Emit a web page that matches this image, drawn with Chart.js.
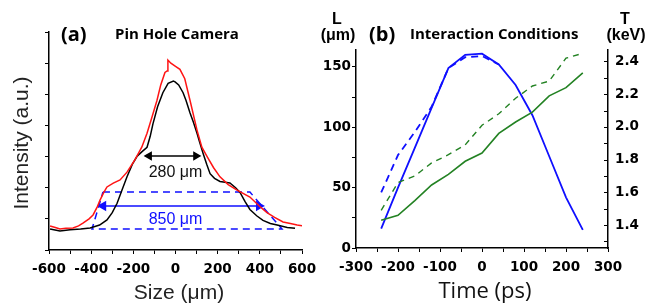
<!DOCTYPE html>
<html>
<head>
<meta charset="utf-8">
<script src="https://cdn.jsdelivr.net/npm/chart.js@4/dist/chart.umd.min.js"></script>
<style>
  html, body { margin: 0; padding: 0; background: #fff; }
  #wrap { position: relative; width: 647px; height: 303px; }
  #boxA { position: absolute; left: 0; top: 0; width: 320px; height: 303px; }
  #boxB { position: absolute; left: 320px; top: 0; width: 327px; height: 303px; }
</style>
</head>
<body>
<div id="wrap">
  <div id="boxA"><canvas id="pinhole"></canvas></div>
  <div id="boxB"><canvas id="interaction"></canvas></div>
</div>
<script>
// ---- (a) pin hole camera profiles ----
const sizeRed = [-595, -570, -548, -520, -486, -460, -439, -410, -391, -370, -358, -340, -325, -295, -263, -230, -192, -160, -135, -110, -88, -70, -50, -40, -36, -22, 0, 21, 44, 69, 102, 125, 150, 180, 211, 250, 292, 353, 401, 434, 470, 510, 545, 577, 600];
const intRed  = [1.54, 1.45, 1.35, 1.40, 1.41, 1.55, 1.73, 2.0, 2.25, 2.8, 3.2, 3.7, 4.05, 4.3, 4.5, 5.0, 5.8, 6.6, 7.5, 8.6, 9.6, 10.6, 11.4, 11.5, 12.2, 12.0, 11.8, 11.6, 11.0, 9.6, 7.7, 6.6, 6.0, 5.3, 4.7, 4.2, 3.85, 3.4, 2.78, 2.4, 2.1, 1.8, 1.7, 1.6, 1.55];

const sizeBlack = [-595, -548, -500, -450, -405, -360, -325, -300, -277, -255, -230, -205, -183, -160, -135, -120, -107, -85, -60, -35, -10, -2, 15, 36, 50, 69, 85, 102, 115, 131, 148, 164, 185, 211, 235, 258, 285, 306, 330, 353, 385, 415, 450, 482, 530, 567];
const intBlack  = [1.35, 1.22, 1.3, 1.35, 1.41, 1.6, 1.93, 2.4, 3.0, 3.8, 4.7, 5.5, 6.0, 6.3, 6.6, 7.3, 8.1, 9.2, 10.1, 10.7, 10.85, 10.8, 10.6, 10.1, 9.6, 8.8, 8.2, 7.5, 6.9, 6.2, 5.5, 4.9, 4.6, 4.4, 4.35, 4.3, 4.0, 3.7, 3.1, 2.6, 2.2, 1.9, 1.7, 1.6, 1.45, 1.4];

// widths marked on the profile
const fwhmX = [-125, 97];   const fwhmY = [6.04, 6.04];
const baseX = [-343, 396];  const baseY = [2.83, 2.83];
const boxX  = [-344, 353, 505, -396, -344];
const boxY  = [3.72, 3.72, 1.35, 1.35, 3.72];

const sizeTicks  = [-600, -500, -400, -300, -200, -100, 0, 100, 200, 300, 400, 500, 600];
const sizeLabels = [-600, -400, -200, 0, 200, 400, 600];
const intTicks   = [0, 1, 2, 3, 4, 5, 6, 7, 8, 9, 10, 11, 12, 13, 14];

// ---- (b) interaction conditions ----
const times   = [-240, -200, -160, -120, -80, -40, 0, 40, 80, 120, 160, 200, 240];
const lSolid  = [16, 50, 83, 116, 149, 160, 161, 152, 135, 110, 76, 42, 15];
const lDashed = [46, 77, 96, 117, 149, 158, 159, 152];
const tSolid  = [1.43, 1.46, 1.55, 1.645, 1.71, 1.79, 1.84, 1.96, 2.03, 2.09, 2.19, 2.24, 2.33];
const tDashed = [1.49, 1.66, 1.70, 1.78, 1.83, 1.89, 2.01, 2.08, 2.175, 2.25, 2.28, 2.42, 2.45];

const timeTicks  = [-300, -250, -200, -150, -100, -50, 0, 50, 100, 150, 200, 250, 300];
const timeLabels = [-300, -200, -100, 0, 100, 200, 300];
const lTicks     = [0, 25, 50, 75, 100, 125, 150];
const lLabels    = [0, 50, 100, 150];
const tTicks     = [1.3, 1.4, 1.5, 1.6, 1.7, 1.8, 1.9, 2.0, 2.1, 2.2, 2.3, 2.4];
const tLabels    = [1.4, 1.6, 1.8, 2.0, 2.2, 2.4];

const pts = (xs, ys) => xs.map((x, i) => ({ x: x, y: ys[i] }));
const tickFont = { family: 'DejaVu Sans', size: 13.5, weight: 'bold' };
const BLUE = '#0f0fff', GREEN = '#238223', RED = '#ff1414';

function textPlugin(items) {
  return {
    id: 'texts',
    afterDraw(chart) {
      const ctx = chart.ctx;
      items.forEach(t => {
        let x = t.x, y = t.y;
        if (t.onData) {
          x = chart.scales.x.getPixelForValue(t.x);
          y = chart.scales.y.getPixelForValue(t.y);
        }
        ctx.save();
        ctx.font = t.font;
        ctx.fillStyle = t.color || '#000';
        ctx.textAlign = t.align || 'left';
        ctx.textBaseline = t.baseline || 'alphabetic';
        ctx.translate(x, y);
        if (t.rot) ctx.rotate(t.rot);
        ctx.fillText(t.text, 0, 0);
        ctx.restore();
      });
    }
  };
}

// right axis of (b) has its ticks pointing into the plot
const innerTicks = {
  id: 'innerTicks',
  afterDraw(chart) {
    const s = chart.scales.yT;
    const ctx = chart.ctx;
    ctx.save();
    ctx.strokeStyle = '#000';
    ctx.lineWidth = 1;
    tTicks.forEach(v => {
      const y = Math.round(s.getPixelForValue(v)) + 0.5;
      ctx.beginPath();
      ctx.moveTo(s.left, y);
      ctx.lineTo(s.left - 4, y);
      ctx.stroke();
    });
    ctx.restore();
  }
};

const textsA = [
  { text: '(a)', x: 61, y: 41, font: 'bold 20px "Open Sans"' },
  { text: 'Pin Hole Camera', x: 115, y: 39, font: 'bold 15px "Open Sans"' },
  { text: 'Intensity (a.u.)', x: 22, y: 143, rot: -Math.PI / 2, align: 'center', baseline: 'middle', font: '21px "Liberation Sans"', color: '#222' },
  { text: 'Size (\u03bcm)', x: 179, y: 299, align: 'center', font: '21px "Liberation Sans"', color: '#222' },
  { text: '280 \u03bcm', x: 0, y: 4.69, onData: true, align: 'center', font: '16px "Liberation Sans"', color: '#111' },
  { text: '850 \u03bcm', x: 0, y: 1.67, onData: true, align: 'center', font: '16px "Liberation Sans"', color: BLUE }
];

const textsB = [
  { text: '(b)', x: 49, y: 41, font: 'bold 20px "Open Sans"' },
  { text: 'Interaction Conditions', x: 90, y: 39, font: 'bold 15px "Open Sans"' },
  { text: 'L', x: 17, y: 24, align: 'center', font: 'bold 16px "Liberation Sans"' },
  { text: '(\u03bcm)', x: 18, y: 40, align: 'center', font: 'bold 16px "Liberation Sans"' },
  { text: 'T', x: 305, y: 24, align: 'center', font: 'bold 16px "Liberation Sans"' },
  { text: '(keV)', x: 306, y: 40, align: 'center', font: 'bold 16px "Liberation Sans"' },
  { text: 'Time (ps)', x: 165, y: 298, align: 'center', font: '22px "Open Sans"', color: '#111' }
];

function axisX(min, max, tickVals, labelVals, h) {
  return {
    type: 'linear', min: min, max: max,
    afterBuildTicks: s => { s.ticks = tickVals.map(v => ({ value: v })); },
    afterFit: s => { s.height = h; s.paddingLeft = 0; s.paddingRight = 0; },
    ticks: { autoSkip: false, maxRotation: 0, font: tickFont, color: '#000', padding: 7,
             callback: v => labelVals.includes(v) ? String(v) : '' },
    grid: { drawOnChartArea: false, tickLength: 4, color: '#000' },
    border: { color: '#000', width: 1.5 }
  };
}

new Chart(document.getElementById('pinhole'), {
  type: 'line',
  data: {
    datasets: [
      { data: pts(sizeRed, intRed), borderColor: RED, borderWidth: 1.5, pointRadius: 0 },
      { data: pts(sizeBlack, intBlack), borderColor: '#000', borderWidth: 1.5, pointRadius: 0 },
      { data: pts(boxX, boxY), borderColor: BLUE, borderWidth: 1.5, borderDash: [7, 5], pointRadius: 0 },
      { data: pts(fwhmX, fwhmY), borderColor: '#000', borderWidth: 1.5, pointStyle: 'triangle',
        pointRadius: 4, pointRotation: [-90, 90], pointBackgroundColor: '#000', pointBorderColor: '#000' },
      { data: pts(baseX, baseY), borderColor: BLUE, borderWidth: 1.5, pointStyle: 'triangle',
        pointRadius: 4.5, pointRotation: [-90, 90], pointBackgroundColor: BLUE, pointBorderColor: BLUE }
    ]
  },
  options: {
    responsive: true, maintainAspectRatio: false, animation: false,
    layout: { padding: { top: 32, right: 18, left: 0, bottom: 0 } },
    plugins: { legend: { display: false }, tooltip: { enabled: false } },
    elements: { line: { tension: 0 } },
    scales: {
      x: axisX(-600, 600, sizeTicks, sizeLabels, 53),
      y: {
        type: 'linear', min: 0, max: 14,
        afterBuildTicks: s => { s.ticks = intTicks.map(v => ({ value: v })); },
        afterFit: s => { s.width = 49; },
        ticks: { callback: () => '', font: tickFont },
        grid: { drawOnChartArea: false, tickLength: 4, color: '#000' },
        border: { color: '#000', width: 1.5 }
      }
    }
  },
  plugins: [textPlugin(textsA)]
});

new Chart(document.getElementById('interaction'), {
  type: 'line',
  data: {
    datasets: [
      { data: pts(times, tDashed), yAxisID: 'yT', borderColor: GREEN, borderWidth: 1.4, borderDash: [6, 5], pointRadius: 0 },
      { data: pts(times, tSolid), yAxisID: 'yT', borderColor: GREEN, borderWidth: 1.6, pointRadius: 0 },
      { data: pts(times.slice(0, lDashed.length), lDashed), yAxisID: 'yL', borderColor: BLUE, borderWidth: 1.8, borderDash: [7, 5], pointRadius: 0 },
      { data: pts(times, lSolid), yAxisID: 'yL', borderColor: BLUE, borderWidth: 1.8, pointRadius: 0 }
    ]
  },
  options: {
    responsive: true, maintainAspectRatio: false, animation: false,
    layout: { padding: { top: 50, right: 0, left: 0, bottom: 0 } },
    plugins: { legend: { display: false }, tooltip: { enabled: false } },
    elements: { line: { tension: 0 } },
    scales: {
      x: axisX(-300, 300, timeTicks, timeLabels, 55),
      yL: {
        type: 'linear', position: 'left', min: 0, max: 164,
        afterBuildTicks: s => { s.ticks = lTicks.map(v => ({ value: v })); },
        afterFit: s => { s.width = 36; },
        ticks: { autoSkip: false, font: tickFont, color: '#000', padding: 1,
                 callback: v => lLabels.includes(v) ? String(v) : '' },
        grid: { drawOnChartArea: false, tickLength: 4, color: '#000' },
        border: { color: '#000', width: 1.5 }
      },
      yT: {
        type: 'linear', position: 'right', min: 1.26, max: 2.47,
        afterBuildTicks: s => { s.ticks = tTicks.map(v => ({ value: v })); },
        afterFit: s => { s.width = 39; },
        ticks: { autoSkip: false, font: tickFont, color: '#000', padding: 7,
                 callback: v => tLabels.includes(v) ? v.toFixed(1) : '' },
        grid: { display: false, drawTicks: false },
        border: { color: '#000', width: 1.5 }
      }
    }
  },
  plugins: [textPlugin(textsB), innerTicks]
});
</script>
</body>
</html>
